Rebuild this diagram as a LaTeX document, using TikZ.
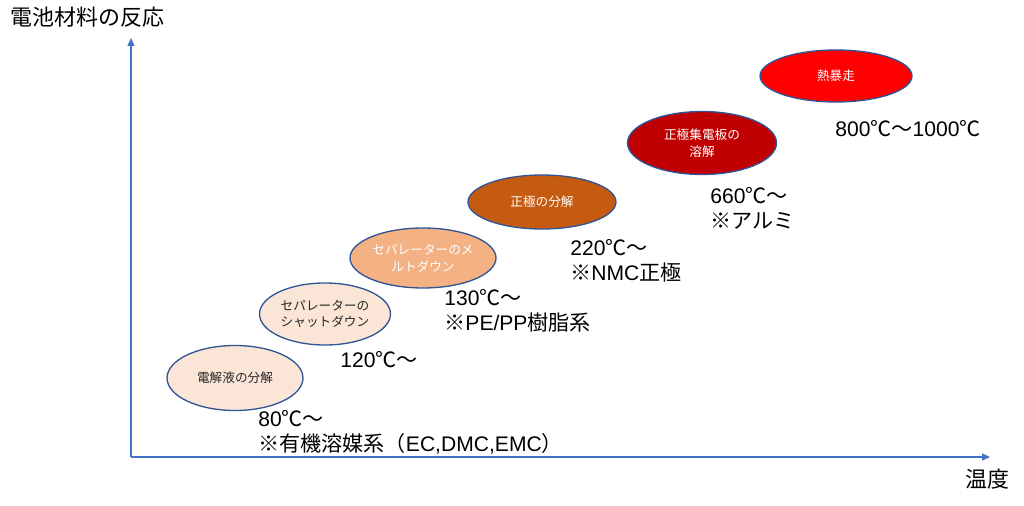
\documentclass[tikz,border=0pt]{standalone}
\usepackage{fontspec}
\setmainfont{Noto Sans CJK JP}
\newfontfamily\lat{Liberation Sans}
\usepackage{xcolor}
\usepackage{tikz}
\usetikzlibrary{shapes.geometric,arrows.meta}
\definecolor{axisblue}{HTML}{4472C4}
\definecolor{rimblue}{HTML}{2F5597}
\definecolor{peach}{HTML}{FBE5D6}
\definecolor{apricot}{HTML}{F4B183}
\definecolor{rust}{HTML}{C55A11}
\definecolor{deepred}{HTML}{C00000}
\definecolor{hotred}{HTML}{FF0000}

\begin{document}
\begin{tikzpicture}[x=0.02cm,y=-0.02cm,every node/.style={align=center,inner sep=0pt},
    stage/.style={shape=ellipse,draw=rimblue,line width=0.75pt,font=\fontsize{7.2}{9.5}\selectfont},
    temp/.style={anchor=north west,align=left,font=\fontsize{12}{14.5}\selectfont},
    axis/.style={draw=axisblue,line width=0.6pt,-{Triangle[length=4.5pt,width=4pt]}}]
      \useasboundingbox (0,0) rectangle (1024,506);
      \coordinate (origin) at (131,457);
      \coordinate (ytop) at (131,38);
      \coordinate (xend) at (990,457);
      \draw[axis] (origin) -- (ytop);
      \draw[axis] (origin) -- (xend);
      \node[anchor=north west,font=\fontsize{12.5}{15}\selectfont] (ylabel) at (10,7) {電池材料の反応};
      \node[anchor=north west,font=\fontsize{12.5}{15}\selectfont] (xlabel) at (965,469) {温度};
      \node[stage,fill=peach,text=black!85,minimum width = 2.72cm,minimum height = 1.30cm] (electrolyte) at (235,378) {電解液の分解};
      \node[stage,fill=peach,text=black!85,minimum width = 2.62cm,minimum height = 1.24cm] (shutdown) at (325,314) {セパレーターの\\シャットダウン};
      \node[stage,fill=apricot,text=white,minimum width = 2.92cm,minimum height = 1.20cm] (meltdown) at (423,258) {セパレーターのメ\\ルトダウン};
      \node[stage,fill=rust,text=white,minimum width = 2.96cm,minimum height = 1.08cm] (cathode) at (542,202) {正極の分解};
      \node[stage,fill=deepred,text=white,minimum width = 2.98cm,minimum height = 1.26cm] (collector) at (702,143) {正極集電板の\\溶解};
      \node[stage,fill=hotred,text=white,minimum width = 3.04cm,minimum height = 1.04cm] (runaway) at (836,76) {熱暴走};
      \node[temp] (t80) at (258,410) {{\lat 80}℃～\\※有機溶媒系（{\lat EC,DMC,EMC}）};
      \node[temp] (t120) at (340,351) {{\lat 120}℃～};
      \node[temp] (t130) at (444,289) {{\lat 130}℃～\\※{\lat PE/PP}樹脂系};
      \node[temp] (t220) at (570,239) {{\lat 220}℃～\\※{\lat NMC}正極};
      \node[temp] (t660) at (710,187) {{\lat 660}℃～\\※アルミ};
      \node[temp] (t800) at (835,120) {{\lat 800}℃～{\lat 1000}℃};
\end{tikzpicture}
\end{document}
